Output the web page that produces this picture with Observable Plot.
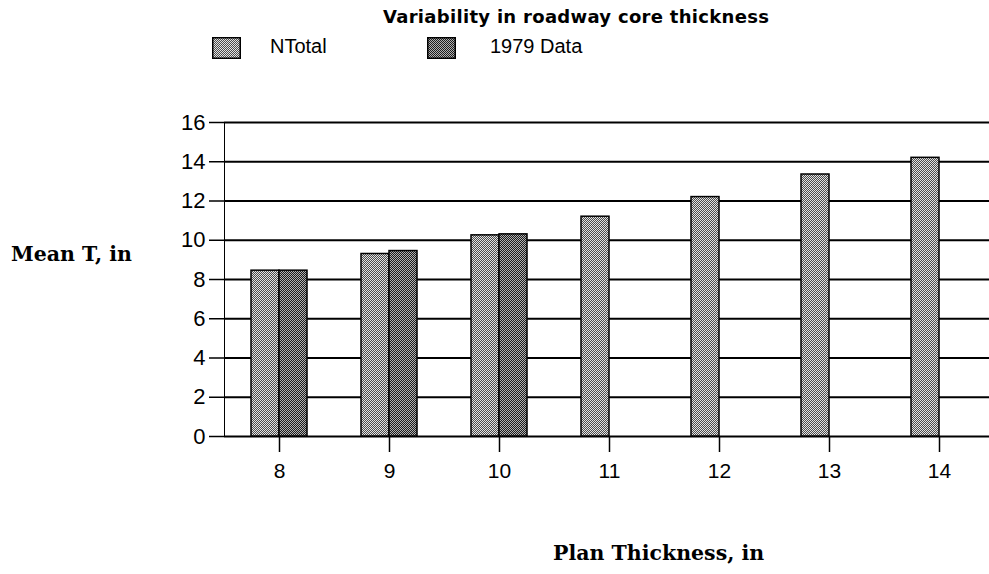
<!DOCTYPE html>
<html>
<head>
<meta charset="utf-8">
<script src="https://cdn.jsdelivr.net/npm/d3@7"></script>
<script src="https://cdn.jsdelivr.net/npm/@observablehq/plot@0.6"></script>
<style>
  html, body { margin: 0; padding: 0; background: #fff; overflow: hidden; }
  #wrap { position: relative; width: 989px; height: 574px; overflow: hidden; background: #fff; }
  .abs { position: absolute; white-space: nowrap; color: #000; }
  #title { left: 383px; top: 6px; font: bold 18px "DejaVu Sans", sans-serif; letter-spacing: 0.3px; }
  .legtext { font: 20px "Liberation Sans", Arial, sans-serif; top: 35px; }
  .swatch { position: absolute; top: 37px; }
  .axlabel { font: bold 20.5px "DejaVu Serif", serif; }
  #chart { position: absolute; left: 0; top: 100px; width: 997px; height: 400px; }
  #chart svg { max-width: none !important; }
</style>
</head>
<body>
<div id="wrap">
  <div id="title" class="abs"></div>
  <div id="legend"></div>
  <div id="ylabel" class="abs axlabel" style="left:11px; top:242px;"></div>
  <div id="xlabel" class="abs axlabel" style="left:553px; top:541px;"></div>
  <div id="chart"></div>
</div>
<script>
const titleText = "Variability in roadway core thickness";
const yLabelText = "Mean T, in";
const xLabelText = "Plan Thickness, in";
const seriesNames = ["NTotal", "1979 Data"];
const planThickness = [8, 9, 10, 11, 12, 13, 14];
const nTotalValues = [8.45, 9.3, 10.25, 11.2, 12.2, 13.35, 14.2];
const data1979Plan = [8, 9, 10];
const data1979Values = [8.45, 9.45, 10.3];
const yTicks = [0, 2, 4, 6, 8, 10, 12, 14, 16];

const rows = [
  ...planThickness.map((p, i) => ({plan: p, series: seriesNames[0], value: nTotalValues[i]})),
  ...data1979Plan.map((p, i) => ({plan: p, series: seriesNames[1], value: data1979Values[i]}))
];

document.getElementById("title").textContent = titleText;
document.getElementById("ylabel").textContent = yLabelText;
document.getElementById("xlabel").textContent = xLabelText;

const patternIds = ["pNT", "p79"];
const patternColors = [["#e2e2e2", "#4c4c4c"], ["#b0b0b0", "#1c1c1c"]];

const chart = Plot.plot({
  width: 997,
  height: 400,
  marginLeft: 221,
  marginRight: 0,
  marginTop: 22,
  marginBottom: 64,
  style: {fontFamily: "'Liberation Sans', Arial, sans-serif", fontSize: "22px", color: "#000", background: "transparent", maxWidth: "none"},
  fx: {domain: planThickness, padding: 0},
  x: {domain: seriesNames, paddingInner: 0, paddingOuter: 0.95, axis: null},
  y: {domain: [0, 16]},
  color: {domain: seriesNames, range: patternIds.map(id => `url(#${id})`)},
  marks: [
    Plot.ruleY(yTicks, {stroke: "#000", strokeWidth: 2.2}),
    Plot.barY(rows, {fx: "plan", x: "series", y: "value", fill: "series", stroke: "#000", strokeWidth: 1.5}),
    Plot.frame({anchor: "left", facetAnchor: "left", stroke: "#000", strokeWidth: 1}),
    Plot.axisY({ticks: yTicks, tickSize: 15, tickPadding: 4, label: null, stroke: "#000", strokeWidth: 1.5, fontSize: 22}),
    Plot.axisFx({anchor: "bottom", tickSize: 16, tickPadding: 11, label: null, stroke: "#000", strokeWidth: 1.5, fontSize: 21})
  ]
});

const svg = d3.select(chart);
const defs = svg.insert("defs", ":first-child");
patternIds.forEach((id, i) => {
  const p = defs.append("pattern").attr("id", id).attr("width", 2).attr("height", 2).attr("patternUnits", "userSpaceOnUse");
  p.append("rect").attr("width", 2).attr("height", 2).attr("fill", patternColors[i][0]);
  p.append("rect").attr("width", 1).attr("height", 1).attr("fill", patternColors[i][1]);
  p.append("rect").attr("x", 1).attr("y", 1).attr("width", 1).attr("height", 1).attr("fill", patternColors[i][1]);
});
document.getElementById("chart").appendChild(chart);

// legend
const legend = d3.select("#legend");
const swatchX = [212, 427];
const textX = [270, 490];
seriesNames.forEach((name, i) => {
  const s = legend.append("svg").attr("class", "swatch").attr("width", 29).attr("height", 22)
    .style("left", swatchX[i] + "px");
  s.append("rect").attr("x", 0.75).attr("y", 0.75).attr("width", 27.5).attr("height", 20.5)
    .attr("fill", `url(#${patternIds[i]})`).attr("stroke", "#000").attr("stroke-width", 1.5);
  legend.append("div").attr("class", "abs legtext").style("left", textX[i] + "px").text(name);
});
</script>
</body>
</html>
